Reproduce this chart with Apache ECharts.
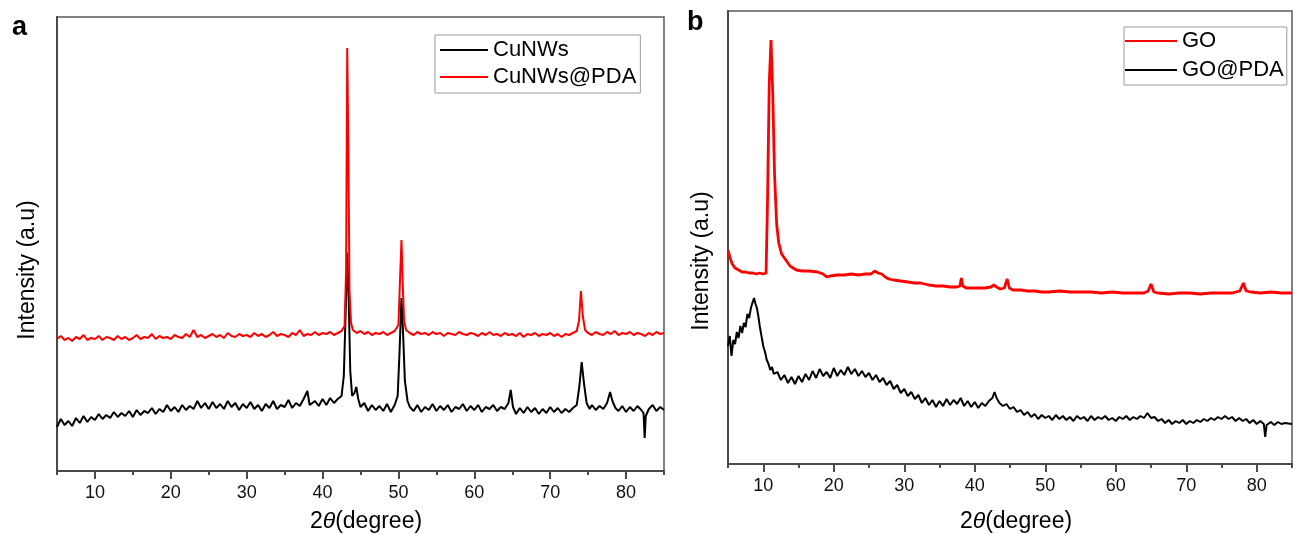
<!DOCTYPE html>
<html>
<head>
<meta charset="utf-8">
<script src="https://cdn.jsdelivr.net/npm/echarts@6/dist/echarts.min.js"></script>
<style>
html,body{margin:0;padding:0;background:#fff;}
#chart{width:1295px;height:534px;}
</style>
</head>
<body>
<div id="chart"></div>
<script>
// x tick labels (2θ, degree)
const xTickLabels = [10, 20, 30, 40, 50, 60, 70, 80];

// Panel a: CuNWs (black)  [2θ, intensity a.u.]
const cuNWs = [
[5,44],[5.5,52],[6,46],[6.5,50],[7,45],[7.5,53],[8,48],[8.5,55],[9,49],[9.5,54],[10,51],[10.5,57],[11,52],[11.5,56],[12,53],[12.5,59],[13,54],[13.5,58],[14,55],[14.5,60],[15,54],[15.5,61],[16,56],[16.5,60],[17,58],[17.5,63],[18,57],[18.5,62],[19,59],[19.5,66],[20,60],[20.5,64],[21,59],[21.5,66],[22,61],[22.5,65],[23,62],[23.5,70],[24,63],[24.5,68],[25,62],[25.5,69],[26,63],[26.5,67],[27,62],[27.5,70],[28,64],[28.5,68],[29,61],[29.5,67],[30,63],[30.5,69],[31,62],[31.5,66],[32,60],[32.5,67],[33,63],[33.5,70],[34,62],[34.5,66],[35,64],[35.5,71],[36,63],[36.5,68],[37,65],[37.5,72],[38,80],[38.3,66],[38.5,64],[39,70],[39.5,65],[40,72],[40.5,66],[41,73],[41.5,68],[42,72],[42.5,75],[42.8,95],[43.05,160],[43.25,218],[43.45,170],[43.65,100],[43.9,75],[44.2,78],[44.45,84],[44.7,72],[45,64],[45.5,68],[46,60],[46.5,66],[47,61],[47.5,65],[48,60],[48.5,67],[49,59],[49.5,66],[49.9,75],[50.15,120],[50.4,173],[50.6,140],[50.85,90],[51.2,70],[51.5,64],[52,60],[52.5,66],[53,59],[53.5,64],[54,61],[54.5,67],[55,60],[55.5,65],[56,61],[56.5,66],[57,59],[57.5,64],[58,62],[58.5,67],[59,60],[59.5,65],[60,61],[60.5,66],[61,59],[61.5,64],[62,62],[62.5,66],[63,60],[63.5,64],[64,62],[64.5,68],[64.8,81],[65.1,64],[65.5,57],[66,63],[66.5,58],[67,64],[67.5,59],[68,63],[68.5,57],[69,62],[69.5,58],[70,64],[70.5,59],[71,63],[71.5,58],[72,62],[72.5,59],[73,63],[73.5,66],[73.85,85],[74.15,109],[74.45,88],[74.8,68],[75.2,62],[75.5,66],[76,61],[76.5,65],[77,62],[77.5,68],[77.9,79],[78.2,70],[78.6,63],[79,60],[79.5,65],[80,59],[80.5,64],[81,60],[81.5,65],[82,61],[82.3,58],[82.45,33],[82.6,55],[83,62],[83.5,66],[84,60],[84.5,64],[85,61]
];

// Panel a: CuNWs@PDA (red)
const cuNWsPDA = [
[5,132],[5.5,135],[6,131],[6.5,133],[7,130],[7.5,134],[8,132],[8.5,136],[9,131],[9.5,133],[10,132],[10.5,135],[11,131],[11.5,134],[12,133],[12.5,131],[13,135],[13.5,132],[14,134],[14.5,131],[15,133],[15.5,136],[16,132],[16.5,134],[17,133],[17.5,137],[18,132],[18.5,135],[19,133],[19.5,134],[20,132],[20.5,136],[21,134],[21.5,133],[22,137],[22.5,134],[23,141],[23.5,134],[24,136],[24.5,133],[25,135],[25.5,137],[26,134],[26.5,136],[27,133],[27.5,138],[28,135],[28.5,134],[29,137],[29.5,135],[30,136],[30.5,134],[31,138],[31.5,135],[32,137],[32.5,134],[33,136],[33.5,139],[34,135],[34.5,137],[35,136],[35.5,134],[36,138],[36.5,136],[37,141],[37.5,135],[38,137],[38.5,136],[39,139],[39.5,136],[40,138],[40.5,137],[41,139],[41.5,136],[42,138],[42.5,140],[42.9,145],[43.1,200],[43.25,423],[43.4,320],[43.55,180],[43.75,148],[44,141],[44.5,138],[45,140],[45.5,137],[46,139],[46.5,136],[47,138],[47.5,137],[48,139],[48.5,136],[49,138],[49.5,140],[50,146],[50.25,200],[50.4,231],[50.55,190],[50.75,150],[51,141],[51.5,138],[52,136],[52.5,139],[53,137],[53.5,138],[54,136],[54.5,139],[55,137],[55.5,138],[56,135],[56.5,138],[57,137],[57.5,136],[58,139],[58.5,137],[59,136],[59.5,138],[60,137],[60.5,135],[61,138],[61.5,136],[62,139],[62.5,136],[63,137],[63.5,135],[64,138],[64.5,136],[65,137],[65.5,135],[66,138],[66.5,134],[67,137],[67.5,136],[68,138],[68.5,135],[69,137],[69.5,136],[70,138],[70.5,135],[71,137],[71.5,134],[72,137],[72.5,136],[73,138],[73.5,140],[73.8,150],[74.05,180],[74.3,155],[74.6,141],[75,138],[75.5,136],[76,139],[76.5,137],[77,136],[77.5,139],[78,137],[78.5,140],[79,136],[79.5,138],[80,137],[80.5,139],[81,136],[81.5,138],[82,137],[82.5,135],[83,138],[83.5,136],[84,139],[84.5,137],[85,138]
];

// Panel b: GO (red)
const goData = [
[5,214],[5.3,206],[5.6,200],[6,196],[6.5,194],[7,192],[7.5,192],[8,191],[8.5,191],[9,190],[9.5,191],[10,190],[10.4,191],[10.6,260],[10.85,380],[11.1,424],[11.35,370],[11.6,290],[11.9,240],[12.2,221],[12.6,210],[13.2,204],[13.8,198],[14.7,194],[15.5,193],[16.5,193],[17.7,192],[18.5,190],[19,187],[19.5,188],[20.5,189],[21.5,189],[22.5,190],[23.5,189],[24.5,190],[25.3,190],[25.8,193],[26.3,191],[26.8,190],[27.3,187],[27.8,185],[28.5,184],[29.5,183],[30.5,182],[31.5,181],[32.3,181],[33.5,179],[34.5,178],[35.5,178],[36.5,177],[37.5,177],[37.9,178],[38.1,186],[38.3,178],[38.8,176],[39.5,176],[40.5,176],[41.5,176],[42.3,177],[42.7,179],[43.1,177],[43.6,175],[44.2,176],[44.6,185],[44.9,176],[45.4,174],[46.5,174],[47.5,173],[48.5,173],[49.5,172],[50.5,172],[52,173],[53.5,172],[55,172],[56.5,172],[58,171],[59.5,172],[61,171],[62.5,171],[64,171],[64.6,173],[65,180],[65.4,172],[66,171],[67.5,170],[69,171],[70.5,171],[72,170],[73.5,171],[75,171],[76.5,171],[77.6,173],[78.1,181],[78.5,173],[79.2,172],[80.5,171],[82,172],[83.5,171],[85,171]
];

// Panel b: GO@PDA (black)
const goPDA = [
[5,118],[5.25,128],[5.5,108],[5.75,124],[6,120],[6.25,132],[6.5,126],[6.75,138],[7,131],[7.25,141],[7.5,137],[7.75,150],[8,146],[8.25,156],[8.5,162],[8.7,166],[8.9,160],[9.1,156],[9.3,148],[9.5,138],[9.75,128],[10,118],[10.25,112],[10.5,104],[10.75,100],[11,94],[11.25,97],[11.5,90],[12,92],[12.5,84],[13,89],[13.5,81],[14,87],[14.5,80],[15,88],[15.5,82],[16,90],[16.5,84],[17,93],[17.5,86],[18,95],[18.5,88],[19,92],[19.5,86],[20,96],[20.5,88],[21,94],[21.5,89],[22,97],[22.5,90],[23,95],[23.5,88],[24,93],[24.5,87],[25,91],[25.5,84],[26,89],[26.5,82],[27,86],[27.5,79],[28,83],[28.5,75],[29,79],[29.5,71],[30,75],[30.5,68],[31,72],[31.5,65],[32,69],[32.5,61],[33,66],[33.5,59],[34,64],[34.5,57],[35,63],[35.5,58],[36,65],[36.5,59],[37,64],[37.5,60],[38,66],[38.5,58],[39,63],[39.5,57],[40,62],[40.5,56],[41,61],[41.5,58],[42,63],[42.5,66],[42.8,72],[43.1,66],[43.5,61],[44,58],[44.5,60],[45,55],[45.5,57],[46,52],[46.5,54],[47,49],[47.5,52],[48,47],[48.5,50],[49,45],[49.5,49],[50,46],[50.5,48],[51,44],[51.5,49],[52,45],[52.5,48],[53,44],[53.5,47],[54,43],[54.5,48],[55,45],[55.5,47],[56,43],[56.5,48],[57,44],[57.5,47],[58,45],[58.5,48],[59,44],[59.5,46],[60,43],[60.5,47],[61,45],[61.5,48],[62,44],[62.5,47],[63,45],[63.5,48],[64,46],[64.5,51],[65,46],[65.5,47],[66,43],[66.5,45],[67,41],[67.5,44],[68,40],[68.5,43],[69,41],[69.5,44],[70,40],[70.5,43],[71,41],[71.5,44],[72,42],[72.5,45],[73,43],[73.5,46],[74,44],[74.5,47],[75,45],[75.5,48],[76,45],[76.5,47],[77,43],[77.5,46],[78,43],[78.5,45],[79,41],[79.5,44],[80,40],[80.5,43],[81,40],[81.2,27],[81.4,39],[82,42],[82.5,39],[83,42],[83.5,40],[84,41],[85,40]
];

const FONT = '"Liberation Sans", Arial, sans-serif';
const AXIS_COLOR = '#4a4a4a';

function xAxes(gridIndex) {
  return [
    {
      type: 'value', gridIndex: gridIndex, min: 5, max: 85, interval: 5, position: 'bottom',
      axisLine: { show: true, onZero: false, lineStyle: { color: AXIS_COLOR, width: 2 } },
      axisTick: { show: true, inside: false, length: 4, lineStyle: { color: AXIS_COLOR, width: 2 } },
      axisLabel: {
        show: true, margin: 13, fontSize: 18, fontFamily: FONT, color: '#111',
        formatter: function (v) { return xTickLabels.indexOf(v) >= 0 ? String(v) : ''; }
      },
      splitLine: { show: false }
    },
    {
      type: 'value', gridIndex: gridIndex, min: 5, max: 85, position: 'bottom',
      axisLine: { show: false },
      axisTick: { show: true, length: 8, customValues: xTickLabels, lineStyle: { color: AXIS_COLOR, width: 2 } },
      axisLabel: { show: false },
      splitLine: { show: false }
    }
  ];
}

function yAxis(gridIndex, max) {
  return {
    type: 'value', gridIndex: gridIndex, min: 0, max: max,
    axisLine: { show: true, onZero: false, lineStyle: { color: AXIS_COLOR, width: 2 } },
    axisTick: { show: false }, axisLabel: { show: false }, splitLine: { show: false }
  };
}

const chart = echarts.init(document.getElementById('chart'), null, { renderer: 'canvas' });

const option = {
  animation: false,
  backgroundColor: '#ffffff',
  grid: [
    { left: 57, top: 17, width: 607, height: 454, show: true, borderColor: '#5a5a5a', borderWidth: 1.5, backgroundColor: 'transparent' },
    { left: 728, top: 11, width: 577, height: 453, show: true, borderColor: '#5a5a5a', borderWidth: 1.5, backgroundColor: 'transparent' }
  ],
  xAxis: xAxes(0).concat(xAxes(1)),
  yAxis: [yAxis(0, 454), yAxis(1, 453)],
  legend: [
    {
      data: ['CuNWs', 'CuNWs@PDA'], orient: 'vertical', left: 435, top: 35,
      icon: 'rect', itemWidth: 48, itemHeight: 2,
      padding: [4, 4, 5, 5], itemGap: 5,
      borderColor: '#9a9a9a', borderWidth: 1, backgroundColor: '#fff',
      textStyle: { fontSize: 22, fontFamily: FONT, color: '#000' }
    },
    {
      data: ['GO', 'GO@PDA'], orient: 'vertical', left: 1124, top: 27,
      icon: 'rect', itemWidth: 52, itemHeight: 2,
      padding: [3, 3, 4, 1], itemGap: 7,
      borderColor: '#9a9a9a', borderWidth: 1, backgroundColor: '#fff',
      textStyle: { fontSize: 22, fontFamily: FONT, color: '#000' }
    }
  ],
  series: [
    { name: 'CuNWs', type: 'line', xAxisIndex: 0, yAxisIndex: 0, data: cuNWs, symbol: 'none', lineStyle: { color: '#000', width: 2 }, itemStyle: { color: '#000' } },
    { name: 'CuNWs@PDA', type: 'line', xAxisIndex: 0, yAxisIndex: 0, data: cuNWsPDA, symbol: 'none', lineStyle: { color: '#ff0000', width: 2 }, itemStyle: { color: '#ff0000' } },
    { name: 'GO', type: 'line', xAxisIndex: 2, yAxisIndex: 1, data: goData, symbol: 'none', lineStyle: { color: '#ff0000', width: 2.8 }, itemStyle: { color: '#ff0000' } },
    { name: 'GO@PDA', type: 'line', xAxisIndex: 2, yAxisIndex: 1, data: goPDA, symbol: 'none', lineStyle: { color: '#000', width: 2 }, itemStyle: { color: '#000' } }
  ],
  graphic: [
    { type: 'text', left: 12, top: 14, style: { text: 'a', font: 'bold 27px ' + FONT, fill: '#000' } },
    { type: 'text', left: 687, top: 9, style: { text: 'b', font: 'bold 27px ' + FONT, fill: '#000' } },
    { type: 'text', x: 28, y: 270, rotation: Math.PI / 2, style: { text: 'Intensity (a.u)', font: '23px ' + FONT, fill: '#000', align: 'center', verticalAlign: 'middle' } },
    { type: 'text', x: 702, y: 261, rotation: Math.PI / 2, style: { text: 'Intensity (a.u)', font: '23px ' + FONT, fill: '#000', align: 'center', verticalAlign: 'middle' } },
    { type: 'text', x: 366, y: 522, style: { text: '2{i|θ}(degree)', font: '23px ' + FONT, fill: '#000', align: 'center', verticalAlign: 'middle', rich: { i: { fontStyle: 'italic', fontSize: 23, fontFamily: FONT, fill: '#000' } } } },
    { type: 'text', x: 1016, y: 522, style: { text: '2{i|θ}(degree)', font: '23px ' + FONT, fill: '#000', align: 'center', verticalAlign: 'middle', rich: { i: { fontStyle: 'italic', fontSize: 23, fontFamily: FONT, fill: '#000' } } } }
  ]
};

chart.setOption(option);
</script>
</body>
</html>
